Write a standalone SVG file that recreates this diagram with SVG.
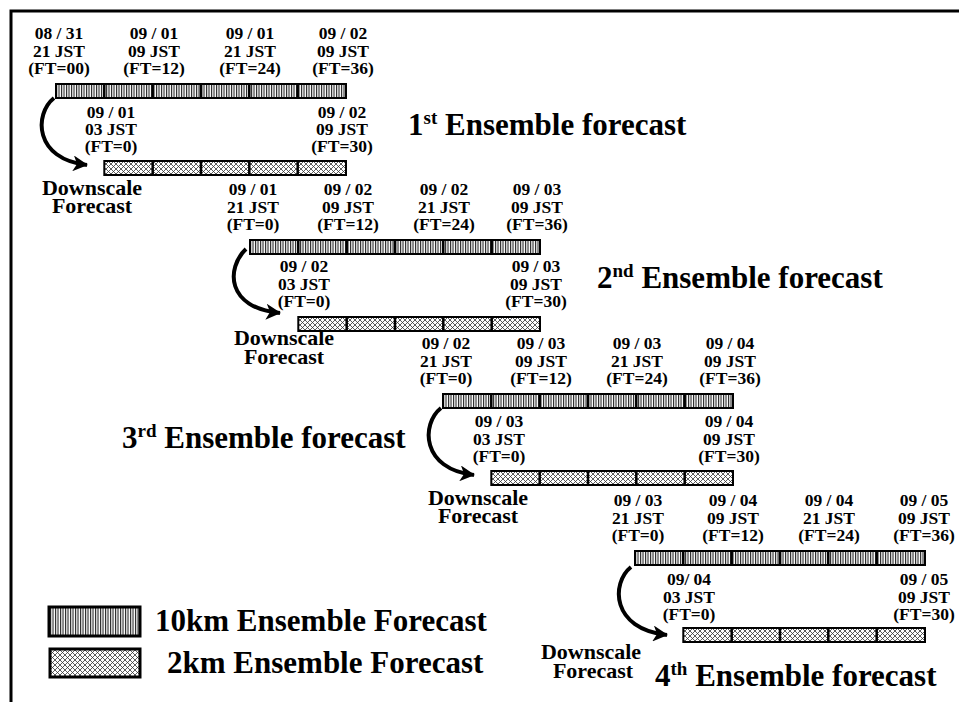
<svg xmlns="http://www.w3.org/2000/svg" width="959" height="702" viewBox="0 0 959 702">
<style>
text{font-family:"Liberation Serif","Times New Roman",serif;font-weight:bold;fill:#000}
.lb{font-size:17.5px;text-anchor:middle}
.ds{font-size:22px;text-anchor:middle}
.tt{font-size:31px}
.sup{font-size:19px}
.bar10{fill:url(#p10);stroke:#000;stroke-width:2}
.bar2{fill:url(#p2);stroke:#000;stroke-width:2}
.div{stroke:#000;stroke-width:2.5}
.arr{fill:none;stroke:#000;stroke-width:4;marker-end:url(#ah)}
</style>
<defs>
<pattern id="p10" patternUnits="userSpaceOnUse" width="2.5" height="10">
<rect width="2.5" height="10" fill="#fff"/>
<rect width="1.1" height="10" fill="#222"/>
</pattern>
<pattern id="p2" patternUnits="userSpaceOnUse" width="5" height="5">
<rect width="5" height="5" fill="#fff"/>
<path d="M0 0L5 5M5 0L0 5" stroke="#333" stroke-width="0.8"/>
</pattern>
<marker id="ah" markerUnits="userSpaceOnUse" markerWidth="16" markerHeight="16" refX="14" refY="8" orient="auto">
<path d="M0 0L15 8L0 16L4 8Z" fill="#000"/>
</marker>
<g id="bars">
<rect class="bar10" x="0" y="0" width="290" height="14"/>
<path class="div" d="M48.3 0V14M96.7 0V14M145 0V14M193.3 0V14M241.7 0V14"/>
<rect class="bar2" x="48.3" y="77" width="241.7" height="14"/>
<path class="div" d="M96.7 77V91M145 77V91M193.3 77V91M241.7 77V91"/>
</g>
</defs>
<rect width="959" height="702" fill="#fff"/>
<path d="M11 702V11H959" fill="none" stroke="#000" stroke-width="3"/>

<g id="forecast1" transform="translate(56,84)">
<use href="#bars"/>
<text class="lb"><tspan x="3" y="-45">08 / 31</tspan><tspan x="3" y="-27">21 JST</tspan><tspan x="3" y="-10">(FT=00)</tspan></text>
<text class="lb"><tspan x="98" y="-45">09 / 01</tspan><tspan x="98" y="-27">09 JST</tspan><tspan x="98" y="-10">(FT=12)</tspan></text>
<text class="lb"><tspan x="194" y="-45">09 / 01</tspan><tspan x="194" y="-27">21 JST</tspan><tspan x="194" y="-10">(FT=24)</tspan></text>
<text class="lb"><tspan x="287" y="-45">09 / 02</tspan><tspan x="287" y="-27">09 JST</tspan><tspan x="287" y="-10">(FT=36)</tspan></text>
<text class="lb"><tspan x="55" y="34">09 / 01</tspan><tspan x="55" y="51">03 JST</tspan><tspan x="55" y="68">(FT=0)</tspan></text>
<text class="lb"><tspan x="286" y="34">09 / 02</tspan><tspan x="286" y="51">09 JST</tspan><tspan x="286" y="68">(FT=30)</tspan></text>
<text class="ds"><tspan x="36" y="111">Downscale</tspan><tspan x="36" y="129">Forecast</tspan></text>
</g>

<g id="forecast2" transform="translate(250,240)">
<use href="#bars"/>
<text class="lb"><tspan x="3" y="-45">09 / 01</tspan><tspan x="3" y="-27">21 JST</tspan><tspan x="3" y="-10">(FT=0)</tspan></text>
<text class="lb"><tspan x="98" y="-45">09 / 02</tspan><tspan x="98" y="-27">09 JST</tspan><tspan x="98" y="-10">(FT=12)</tspan></text>
<text class="lb"><tspan x="194" y="-45">09 / 02</tspan><tspan x="194" y="-27">21 JST</tspan><tspan x="194" y="-10">(FT=24)</tspan></text>
<text class="lb"><tspan x="287" y="-45">09 / 03</tspan><tspan x="287" y="-27">09 JST</tspan><tspan x="287" y="-10">(FT=36)</tspan></text>
<text class="lb"><tspan x="54" y="32">09 / 02</tspan><tspan x="54" y="50">03 JST</tspan><tspan x="54" y="67">(FT=0)</tspan></text>
<text class="lb"><tspan x="286" y="32">09 / 03</tspan><tspan x="286" y="50">09 JST</tspan><tspan x="286" y="67">(FT=30)</tspan></text>
<text class="ds"><tspan x="34" y="105">Downscale</tspan><tspan x="34" y="124">Forecast</tspan></text>
</g>

<g id="forecast3" transform="translate(443,394)">
<use href="#bars"/>
<text class="lb"><tspan x="3" y="-45">09 / 02</tspan><tspan x="3" y="-27">21 JST</tspan><tspan x="3" y="-10">(FT=0)</tspan></text>
<text class="lb"><tspan x="98" y="-45">09 / 03</tspan><tspan x="98" y="-27">09 JST</tspan><tspan x="98" y="-10">(FT=12)</tspan></text>
<text class="lb"><tspan x="194" y="-45">09 / 03</tspan><tspan x="194" y="-27">21 JST</tspan><tspan x="194" y="-10">(FT=24)</tspan></text>
<text class="lb"><tspan x="287" y="-45">09 / 04</tspan><tspan x="287" y="-27">09 JST</tspan><tspan x="287" y="-10">(FT=36)</tspan></text>
<text class="lb"><tspan x="56" y="33">09 / 03</tspan><tspan x="56" y="51">03 JST</tspan><tspan x="56" y="68">(FT=0)</tspan></text>
<text class="lb"><tspan x="286" y="33">09 / 04</tspan><tspan x="286" y="51">09 JST</tspan><tspan x="286" y="68">(FT=30)</tspan></text>
<text class="ds"><tspan x="35" y="111">Downscale</tspan><tspan x="35" y="129">Forecast</tspan></text>
</g>

<g id="forecast4" transform="translate(635,551)">
<use href="#bars"/>
<text class="lb"><tspan x="3" y="-45">09 / 03</tspan><tspan x="3" y="-27">21 JST</tspan><tspan x="3" y="-10">(FT=0)</tspan></text>
<text class="lb"><tspan x="98" y="-45">09 / 04</tspan><tspan x="98" y="-27">09 JST</tspan><tspan x="98" y="-10">(FT=12)</tspan></text>
<text class="lb"><tspan x="194" y="-45">09 / 04</tspan><tspan x="194" y="-27">21 JST</tspan><tspan x="194" y="-10">(FT=24)</tspan></text>
<text class="lb"><tspan x="289" y="-45">09 / 05</tspan><tspan x="289" y="-27">09 JST</tspan><tspan x="289" y="-10">(FT=36)</tspan></text>
<text class="lb"><tspan x="54" y="34">09/ 04</tspan><tspan x="54" y="52">03 JST</tspan><tspan x="54" y="69">(FT=0)</tspan></text>
<text class="lb"><tspan x="289" y="34">09 / 05</tspan><tspan x="289" y="52">09 JST</tspan><tspan x="289" y="69">(FT=30)</tspan></text>
<text class="ds"><tspan x="-44" y="108">Downscale</tspan><tspan x="-42" y="127">Forecast</tspan></text>
</g>

<g id="titles">
<text class="tt" x="408" y="135">1<tspan class="sup" dy="-11">st</tspan><tspan dy="11"> Ensemble forecast</tspan></text>
<text class="tt" x="597" y="288">2<tspan class="sup" dy="-11">nd</tspan><tspan dy="11"> Ensemble forecast</tspan></text>
<text class="tt" x="122" y="448">3<tspan class="sup" dy="-11">rd</tspan><tspan dy="11"> Ensemble forecast</tspan></text>
<text class="tt" x="655" y="686">4<tspan class="sup" dy="-11">th</tspan><tspan dy="11"> Ensemble forecast</tspan></text>
</g>

<g id="connectors">
<path class="arr" transform="translate(56,84)" d="M-2 14C-22 30 -22 75 31 81"/>
<path class="arr" transform="translate(250,240)" d="M-4 9C-24 28 -24 68 30 73"/>
<path class="arr" transform="translate(443,394)" d="M-2 14C-22 30 -22 75 31 81"/>
<path class="arr" transform="translate(635,551)" d="M-4 16C-24 32 -24 78 32 84"/>
</g>

<g id="legend">
<g id="legend10">
<rect x="49" y="607" width="91" height="29" fill="url(#p10)" stroke="#000" stroke-width="3"/>
<text class="tt" x="155" y="631">10km Ensemble Forecast</text>
</g>
<g id="legend2">
<rect x="50" y="649" width="90" height="28" fill="url(#p2)" stroke="#000" stroke-width="3"/>
<text class="tt" x="167" y="673">2km Ensemble Forecast</text>
</g>
</g>
</svg>
